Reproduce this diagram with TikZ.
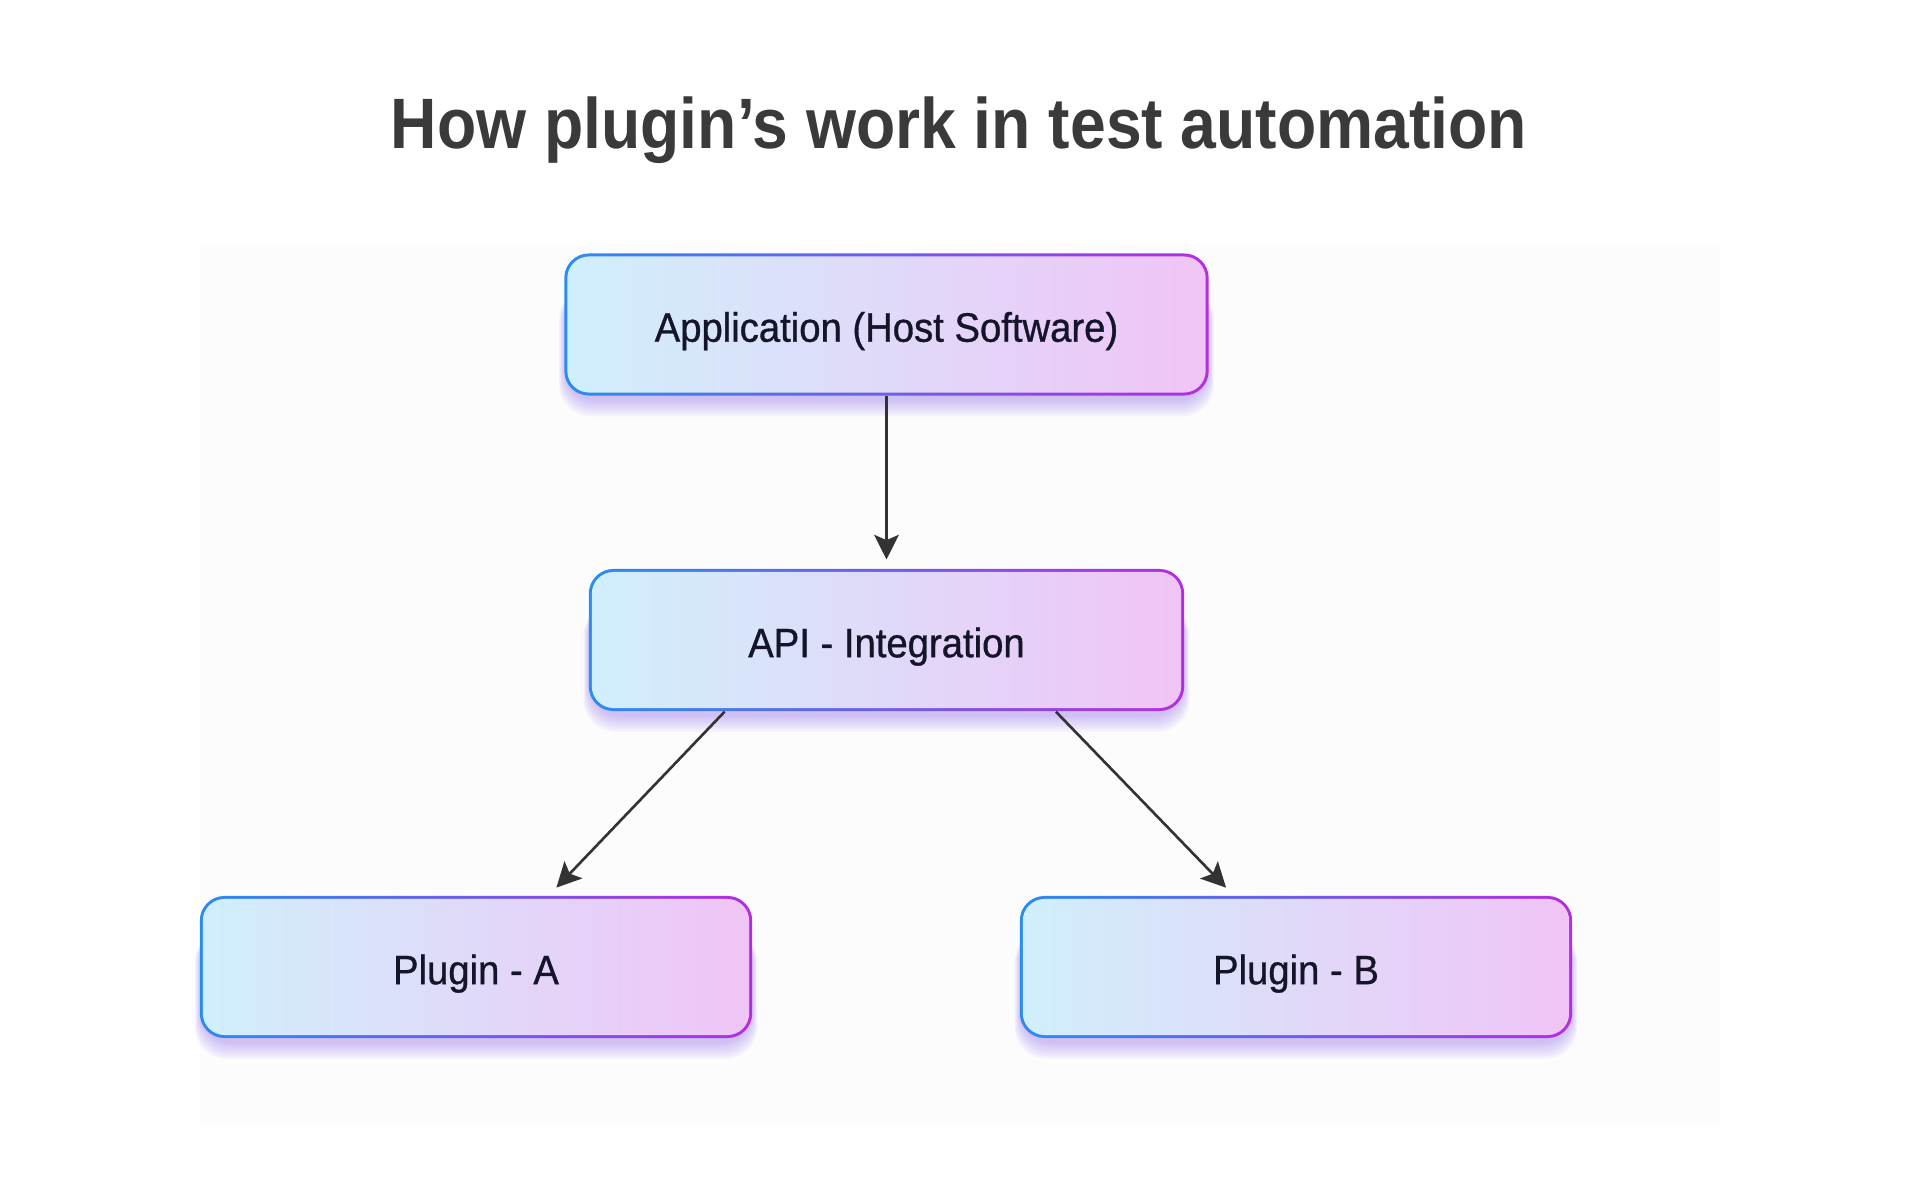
\documentclass[tikz,border=0pt]{standalone}
\usepackage{fontspec}
\setmainfont{Liberation Sans}
\newfontfamily\titlefont{Liberation Sans}[FakeStretch=0.9]
\newfontfamily\boxfont{Liberation Sans}[FakeStretch=0.93,FakeBold=0.8]
\usetikzlibrary{arrows.meta,backgrounds,calc}
\definecolor{bordL}{HTML}{2A8CF0}
\definecolor{bordR}{HTML}{B42EE0}
\definecolor{fillL}{HTML}{D0EFFC}
\definecolor{fillM}{HTML}{EBE9FA}
\definecolor{fillR}{HTML}{F0C4F6}
\definecolor{glowc}{HTML}{7E50F0}
\definecolor{titlec}{HTML}{3A3A3A}
\definecolor{textc}{HTML}{15152A}
\definecolor{arrc}{HTML}{333333}
\definecolor{panel}{HTML}{FCFCFC}
\tikzset{
  gbox/.style={rectangle, rounded corners=7pt, minimum height=1.42cm,
    left color=bordL, right color=bordR, inner sep=0pt,
    text height=9.8pt, text depth=0pt,
    font=\boxfont\fontsize{11.7}{14}\selectfont, text=textc,
    path picture={\shade[rounded corners=6.2pt, left color=fillL, middle color=fillM, right color=fillR]
      ([shift={(0.85pt,0.85pt)}]path picture bounding box.south west) rectangle
      ([shift={(-0.85pt,-0.85pt)}]path picture bounding box.north east);}},
  arr/.style={draw=arrc, line width=0.75pt, -{Stealth[length=7pt,width=7pt,inset=1.5pt]}},
  glowstyle/.style={fill=glowc, opacity=0.055, rounded corners=9pt}
}
\newcommand\myglow[1]{%
  \begin{scope}[on background layer]
    \foreach \i in {1,...,7}{
      \fill[glowstyle] ([shift={(0.5pt-\i*0.25pt,-0.8pt-\i*0.7pt)}]#1.south west) rectangle ([shift={(-0.5pt+\i*0.25pt,-10pt)}]#1.north east);
    }
  \end{scope}}
\begin{document}
\begin{tikzpicture}[x=0.01cm,y=-0.01cm]
\useasboundingbox (0,0) rectangle (1920,1200);
\begin{scope}[on background layer]
\fill[white] (0,0) rectangle (1920,1200);
\fill[panel] (200,245) rectangle (1720,1124);
\end{scope}
\node[font=\titlefont\bfseries\fontsize{20.3}{24}\selectfont, text=titlec, anchor=base] (title) at (959,149) {How plugin’s work in test automation};
\node[gbox, minimum width=6.44cm] (app) at (886.5,324.5) {Application (Host Software)};
\node[gbox, minimum width=5.95cm] (api) at (886.5,640) {API - Integration};
\node[gbox, minimum width=5.52cm] (pa) at (476,967) {Plugin - A};
\node[gbox, minimum width=5.52cm] (pb) at (1296,967) {Plugin - B};
\myglow{app}\myglow{api}\myglow{pa}\myglow{pb}
\draw[arr, shorten >=2.5pt] (app.south) -- (api.north);
\draw[arr, shorten >=3pt] ($(api.south west)!0.2286!(api.south east)$) -- ($(pa.north west)!0.632!(pa.north east)$);
\draw[arr, shorten >=3pt] ($(api.south west)!0.784!(api.south east)$) -- ($(pb.north west)!0.387!(pb.north east)$);
\end{tikzpicture}
\end{document}
